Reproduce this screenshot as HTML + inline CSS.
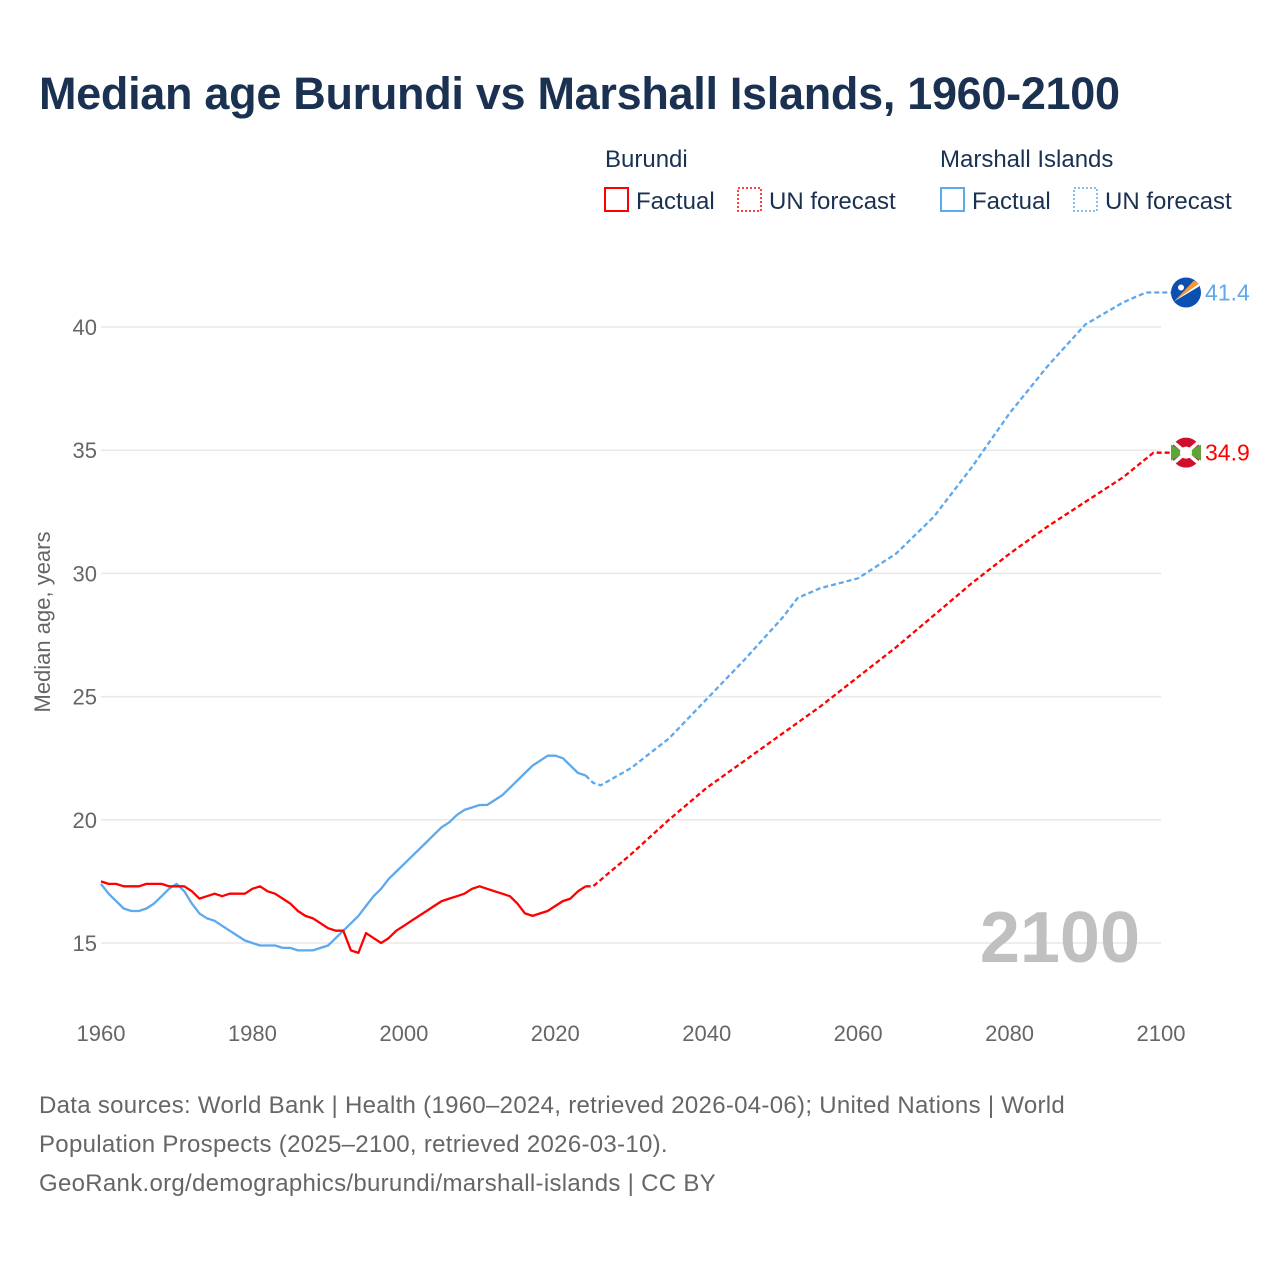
<!DOCTYPE html>
<html><head><meta charset="utf-8"><style>
body{margin:0;background:#fff;width:1280px;height:1280px;overflow:hidden;font-family:"Liberation Sans",sans-serif}
#title{position:absolute;left:39px;top:68px;font-size:45px;font-weight:bold;color:#1a3152;letter-spacing:-0.3px}
.src{position:absolute;left:39px;top:1086px;font-size:24px;line-height:39px;color:#666;letter-spacing:0.3px}
</style></head><body>
<div id="title">Median age Burundi vs Marshall Islands, 1960-2100</div>
<svg id="chart" width="1280" height="1280" style="position:absolute;left:0;top:0"></svg>
<div class="src">Data sources: World Bank | Health (1960–2024, retrieved 2026-04-06); United Nations | World<br>Population Prospects (2025–2100, retrieved 2026-03-10).<br>GeoRank.org/demographics/burundi/marshall-islands | CC BY</div>
<script>
const burYears=[];for(let y=1960;y<=2024;y++)burYears.push(y);
const burFact=[17.5,17.4,17.4,17.3,17.3,17.3,17.4,17.4,17.4,17.3,17.3,17.3,17.1,16.8,16.9,17.0,16.9,17.0,17.0,17.0,17.2,17.3,17.1,17.0,16.8,16.6,16.3,16.1,16.0,15.8,15.6,15.5,15.5,14.7,14.6,15.4,15.2,15.0,15.2,15.5,15.7,15.9,16.1,16.3,16.5,16.7,16.8,16.9,17.0,17.2,17.3,17.2,17.1,17.0,16.9,16.6,16.2,16.1,16.2,16.3,16.5,16.7,16.8,17.1,17.3];
const mhlFact=[17.4,17.0,16.7,16.4,16.3,16.3,16.4,16.6,16.9,17.2,17.4,17.1,16.6,16.2,16.0,15.9,15.7,15.5,15.3,15.1,15.0,14.9,14.9,14.9,14.8,14.8,14.7,14.7,14.7,14.8,14.9,15.2,15.5,15.8,16.1,16.5,16.9,17.2,17.6,17.9,18.2,18.5,18.8,19.1,19.4,19.7,19.9,20.2,20.4,20.5,20.6,20.6,20.8,21.0,21.3,21.6,21.9,22.2,22.4,22.6,22.6,22.5,22.2,21.9,21.8];
const fcYears=[2024,2025,2030,2035,2040,2045,2050,2055,2060,2065,2070,2075,2080,2085,2090,2095,2099,2100];
const burFc=[17.3,17.3,18.6,20.0,21.3,22.4,23.5,24.6,25.8,27.0,28.3,29.6,30.8,31.9,32.9,33.9,34.9,34.9];
const mhlFcYears=[2024,2025,2026,2030,2035,2040,2045,2050,2052,2055,2060,2065,2070,2075,2080,2085,2090,2095,2098,2100];
const mhlFc=[21.8,21.5,21.4,22.1,23.3,24.9,26.5,28.2,29.0,29.4,29.8,30.8,32.3,34.3,36.5,38.4,40.1,41.0,41.4,41.4];
const yTicks=[15,20,25,30,35,40];
const xTicks=[1960,1980,2000,2020,2040,2060,2080,2100];
const X=y=>101+(y-1960)*(1060/140);
const Y=v=>943-(v-15)*24.64;
const svg=document.getElementById('chart');const NS='http://www.w3.org/2000/svg';
function mk(t,a,p){const e=document.createElementNS(NS,t);for(const k in a)e.setAttribute(k,a[k]);(p||svg).appendChild(e);return e;}
yTicks.forEach(v=>{
 const l=mk('line',{x1:101,x2:1161,y1:Y(v),y2:Y(v),stroke:'#e8e8e8','stroke-width':1.5});
 
 
 const t=mk('text',{x:97,y:Y(v)+8,'text-anchor':'end','font-size':22,fill:'#666'});t.textContent=v;
 
 
});
xTicks.forEach(v=>{
 const t=mk('text',{x:X(v),y:1041,'text-anchor':'middle','font-size':22,fill:'#666'});t.textContent=v;
 
 
});
const yt=mk('text',{x:50,y:622,'text-anchor':'middle','font-size':22,fill:'#666',transform:'rotate(-90 50 622)'});yt.textContent='Median age, years';


const yr=mk('text',{x:1140,y:962,'text-anchor':'end','font-size':72,'font-weight':'bold',fill:'#c0c0c0'});yr.textContent='2100';


function line(xs,vs,col,dash,name,ext){
 let d=xs.map((x,i)=>(i?'L':'M')+X(x).toFixed(1)+','+Y(vs[i]).toFixed(1)).join('');
 if(ext)d+='L'+(X(2100)+12)+','+Y(vs[vs.length-1]).toFixed(1);
 const p=mk('path',{d:d,fill:'none',stroke:col,'stroke-width':2.3,'stroke-dasharray':dash||'none','stroke-linejoin':'round'});
 
 
}
line(burYears,mhlFact,'#5ea8ec',null,'marshall-factual-line');
line(burYears,burFact,'#ff0000',null,'burundi-factual-line');
line(mhlFcYears,mhlFc,'#5ea8ec','5 3','marshall-forecast-line',true);
line(fcYears,burFc,'#ff0000','5 3','burundi-forecast-line',true);
const mx=X(2100)+25,my1=Y(mhlFc[mhlFc.length-1]),my2=Y(burFc[burFc.length-1]);
let g=mk('g',{});
mk('circle',{cx:mx,cy:my1,r:15,fill:'#0b4fb0'},g);
mk('path',{d:`M${mx-12},${my1+9}L${mx+13},${my1-9}L${mx+8},${my1-12}Z`,fill:'#f59a30'},g);
mk('path',{d:`M${mx-12},${my1+9}L${mx+13},${my1-9}L${mx+13},${my1-6}Z`,fill:'#fff'},g);
mk('circle',{cx:mx-5,cy:my1-5,r:3,fill:'#fff'},g);
g=mk('g',{});
mk('circle',{cx:mx,cy:my2,r:15,fill:'#d0102a'},g);
mk('path',{d:`M${mx-15},${my2-8}L${mx},${my2}L${mx-15},${my2+8}Z M${mx+15},${my2-8}L${mx},${my2}L${mx+15},${my2+8}Z`,fill:'#5ea43a'},g);
mk('path',{d:`M${mx-12},${my2-10}L${mx+12},${my2+10}M${mx+12},${my2-10}L${mx-12},${my2+10}`,stroke:'#fff','stroke-width':3.5},g);
mk('circle',{cx:mx,cy:my2,r:6,fill:'#fff'},g);
let t=mk('text',{x:mx+19,y:my1+8,'font-size':23,fill:'#5ea8ec'});t.textContent='41.4';

t=mk('text',{x:mx+19,y:my2+8,'font-size':23,fill:'#ff0000'});t.textContent='34.9';

function leg(x,y,txt,col,dotted,name){
 const gg=mk('g',{});
 mk('rect',{x:x,y:y-13,width:23,height:23,fill:'none',stroke:col,'stroke-width':dotted?1.5:2,'stroke-dasharray':dotted?'2 2':'none'},gg);
 const tt=mk('text',{x:x+31,y:y+8,'font-size':24,fill:'#1a3152'},gg);tt.textContent=txt;
}
t=mk('text',{x:605,y:167,'font-size':24,fill:'#1a3152'});t.textContent='Burundi';

t=mk('text',{x:940,y:167,'font-size':24,fill:'#1a3152'});t.textContent='Marshall Islands';

leg(605,201,'Factual','#ff0000',false,'legend-burundi-factual');
leg(738,201,'UN forecast','#ff0000',true,'legend-burundi-forecast');
leg(941,201,'Factual','#5ea8ec',false,'legend-marshall-factual');
leg(1074,201,'UN forecast','#5ea8ec',true,'legend-marshall-forecast');
</script>
</body></html>
